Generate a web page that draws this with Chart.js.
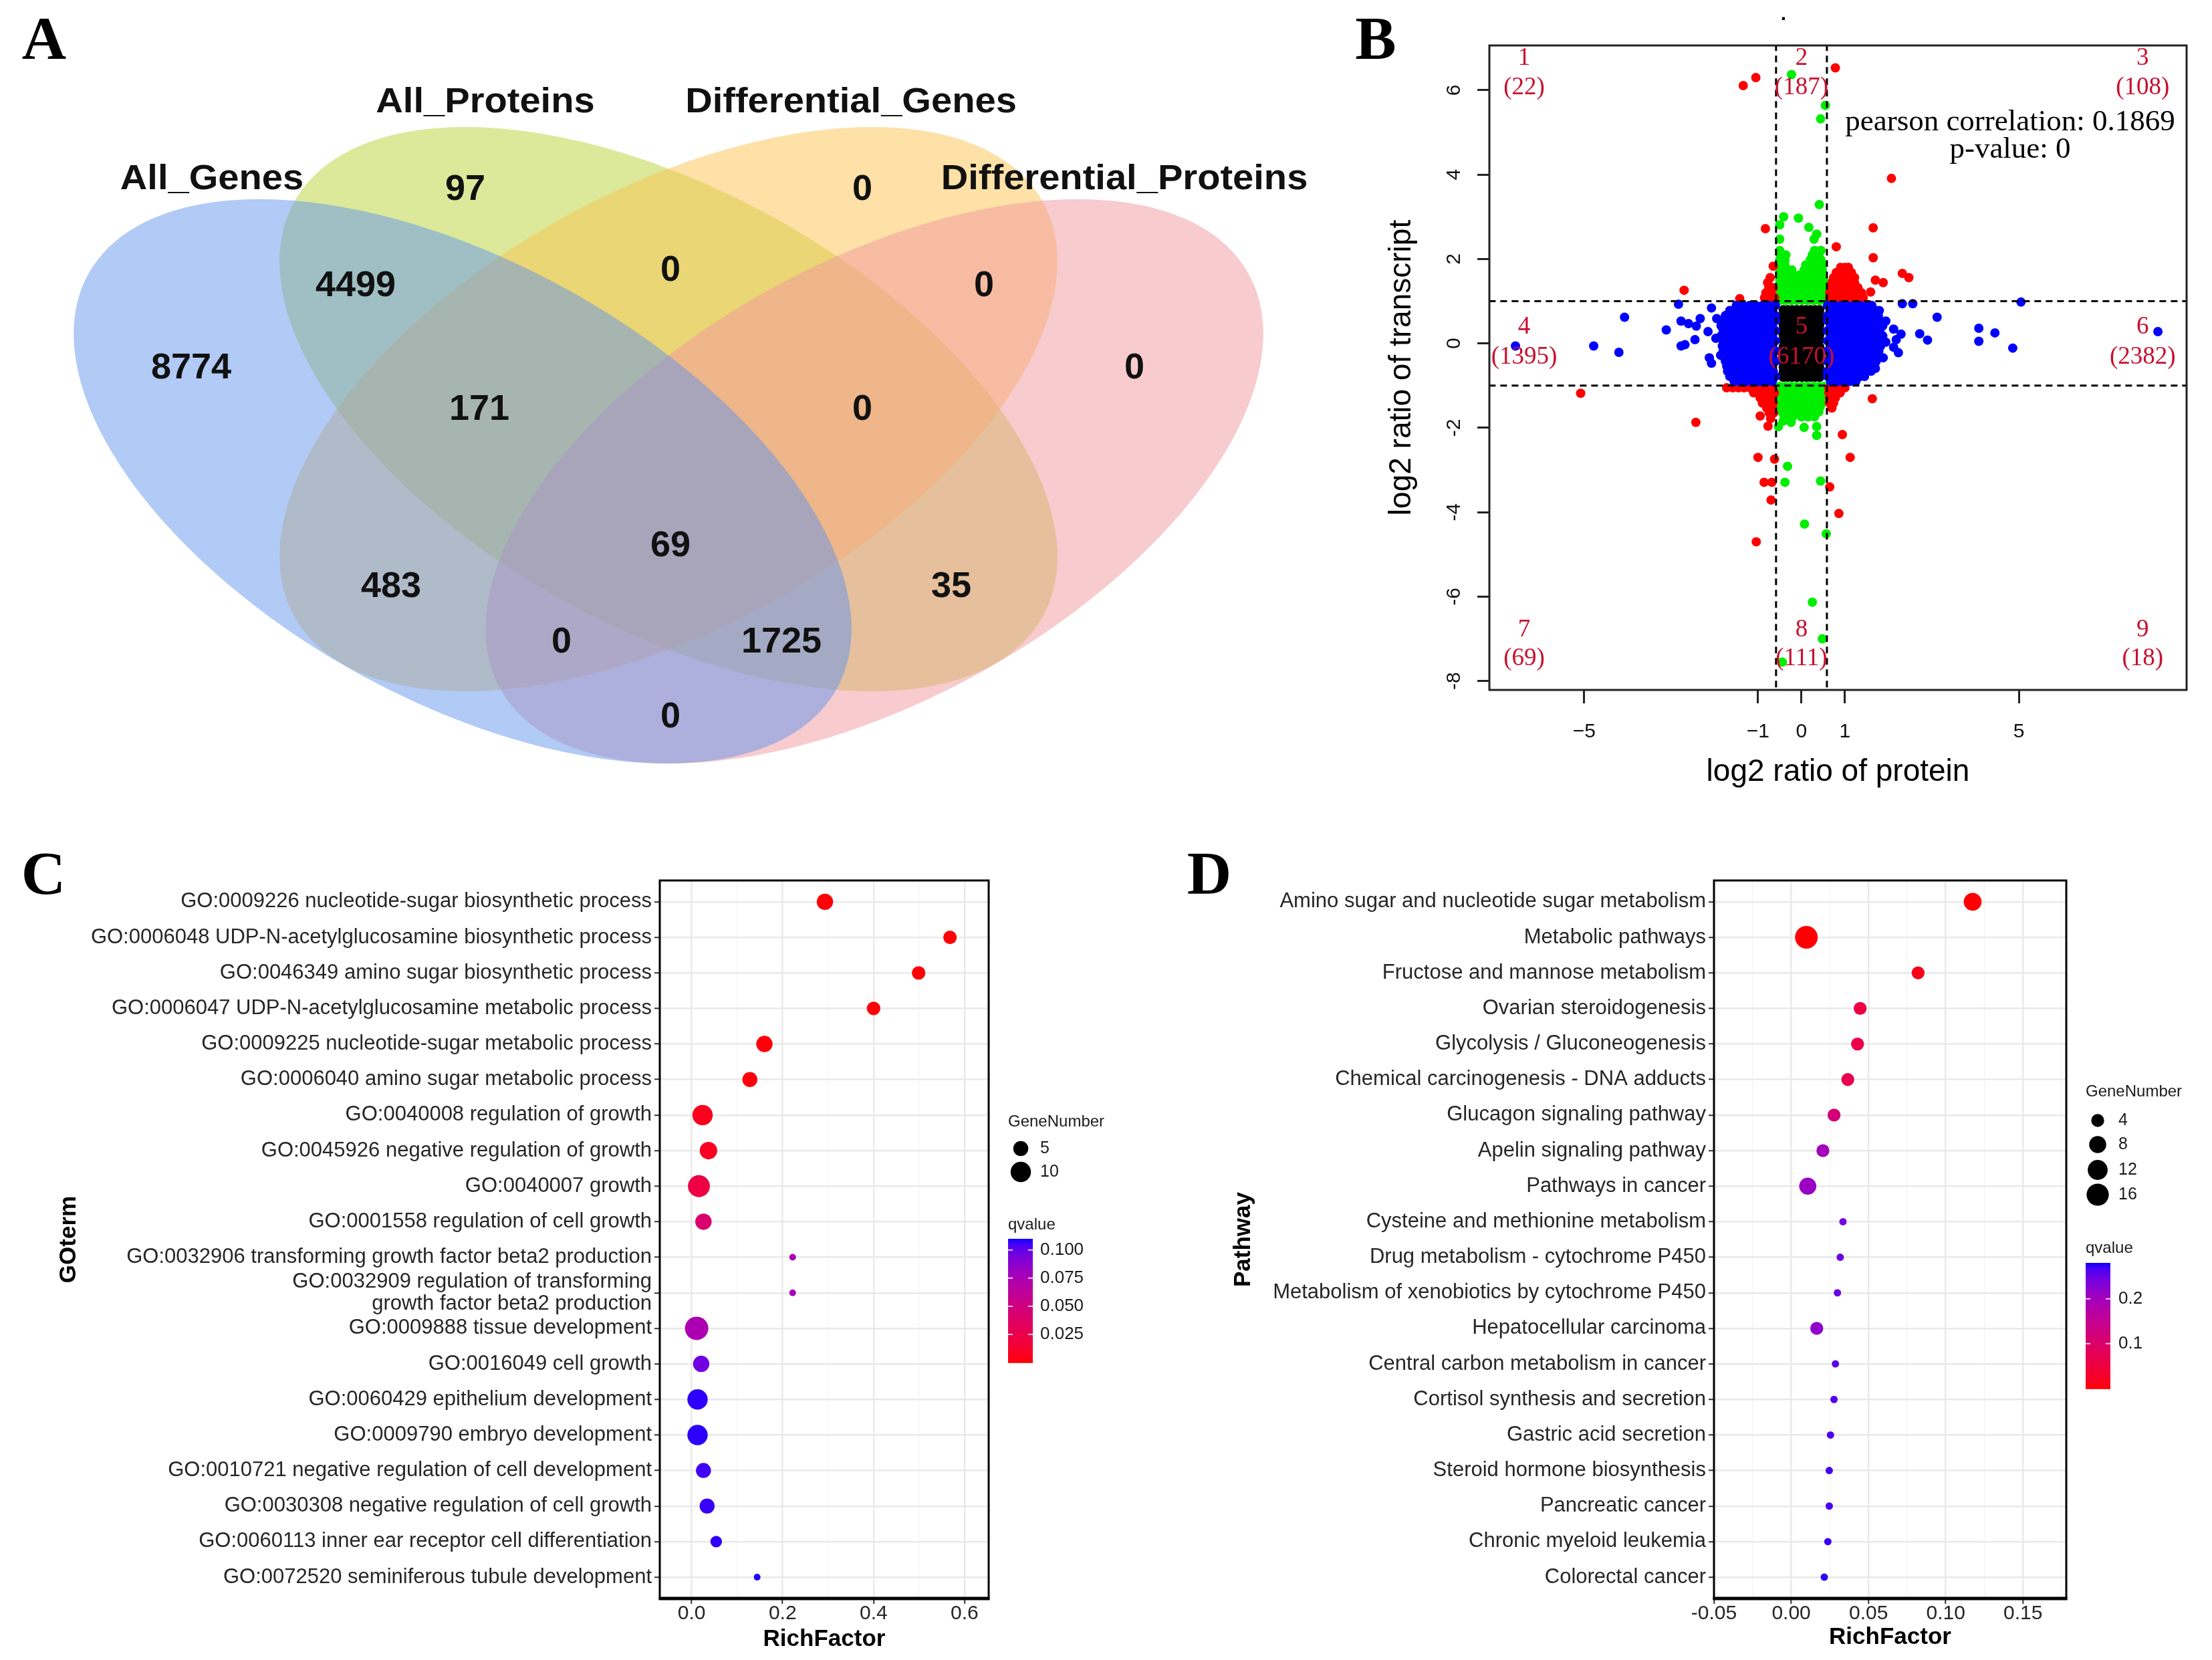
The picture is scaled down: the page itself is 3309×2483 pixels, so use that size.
<!DOCTYPE html>
<html>
<head>
<meta charset="utf-8">
<script src="https://cdn.jsdelivr.net/npm/chart.js"></script>
<style>
html, body { margin: 0; padding: 0; background: #fff; }
body { width: 3309px; height: 2483px; position: relative; overflow: hidden; }
canvas { position: absolute; }
</style>
</head>
<body>
<canvas id="vennChart" width="1990" height="1200" style="left:0;top:0"></canvas>
<canvas id="scatterChart" width="1319" height="1200" style="left:1990px;top:0"></canvas>
<canvas id="goChart" width="1700" height="1233" style="left:0;top:1250px"></canvas>
<canvas id="keggChart" width="1609" height="1233" style="left:1700px;top:1250px"></canvas>
<script>
// ---------- Panel A: Venn ----------
const vennSets = ['All_Genes', 'All_Proteins', 'Differential_Genes', 'Differential_Proteins'];
const vennCounts = [97, 0, 4499, 0, 0, 8774, 171, 0, 0, 69, 483, 35, 0, 1725, 0];

// ---------- Panel B: protein vs transcript ----------
const protCut = 0.585;
const transCut = 1;
const quadNames = ['1', '2', '3', '4', '5', '6', '7', '8', '9'];
const quadCounts = [22, 187, 108, 1395, 6170, 2382, 69, 111, 18];
const pearsonR = '0.1869';
const pearsonP = '0';
const xTicksB = [-5, -1, 0, 1, 5];
const xTickLabelsB = ['\u22125', '\u22121', '0', '1', '5'];
const yTicksB = [-8, -6, -4, -2, 0, 2, 4, 6];

const blueOutliers = [
  [-6.58, -0.06], [-4.78, -0.06], [-4.20, -0.21], [-4.07, 0.62], [-3.11, 0.32], [-2.83, 0.93],
  [-2.77, 0.53], [-2.60, 0.47], [-2.42, 0.41], [-2.33, 0.59], [-2.15, 0.28], [-2.45, 0.09],
  [-2.77, -0.06], [-2.68, -0.03], [-2.07, 0.84], [-1.95, 0.59], [-2.12, -0.34], [-2.07, -0.47],
  [-1.86, -0.28], [-1.97, 0.12],
  [1.79, 0.78], [1.94, 0.53], [2.12, 0.34], [2.29, 0.22], [2.18, 0.09], [1.94, 0.03],
  [2.12, -0.09], [2.23, -0.22], [1.88, -0.34], [1.70, -0.59], [1.29, -0.81], [2.32, 0.94],
  [2.56, 0.94], [3.12, 0.62], [2.72, 0.23], [2.90, 0.08], [4.08, 0.36], [4.08, 0.05],
  [4.45, 0.25], [4.86, -0.11], [5.05, 0.98], [8.20, 0.28]
];
const blueCoreRows = [
  [0.9, [-1.5, -1.35, -1.2, -1.05, -0.9, -0.75, -0.6, 0.6, 0.75, 0.9, 1.05, 1.2, 1.35, 1.5, 1.62]],
  [0.78, [-1.65, -1.57, -1.42, -1.27, -1.12, -0.97, -0.82, -0.67, 0.67, 0.82, 0.97, 1.12, 1.27, 1.42, 1.57, 1.72]],
  [0.66, [-1.75, -1.6, -1.45, -1.3, -1.15, -1.0, -0.85, -0.7, -0.6, 0.6, 0.72, 0.87, 1.02, 1.17, 1.32, 1.47, 1.62, 1.77]],
  [0.54, [-1.8, -1.65, -1.5, -1.35, -1.2, -1.05, -0.9, -0.75, -0.6, 0.6, 0.75, 0.9, 1.05, 1.2, 1.35, 1.5, 1.65, 1.8]],
  [0.42, [-1.85, -1.72, -1.57, -1.42, -1.27, -1.12, -0.97, -0.82, -0.67, 0.67, 0.82, 0.97, 1.12, 1.27, 1.42, 1.57, 1.72, 1.87]],
  [0.3, [-1.8, -1.65, -1.5, -1.35, -1.2, -1.05, -0.9, -0.75, -0.6, 0.6, 0.75, 0.9, 1.05, 1.2, 1.35, 1.5, 1.65, 1.8]],
  [0.18, [-1.85, -1.72, -1.57, -1.42, -1.27, -1.12, -0.97, -0.82, -0.67, 0.67, 0.82, 0.97, 1.12, 1.27, 1.42, 1.57, 1.72, 1.87]],
  [0.06, [-1.8, -1.65, -1.5, -1.35, -1.2, -1.05, -0.9, -0.75, -0.6, 0.6, 0.75, 0.9, 1.05, 1.2, 1.35, 1.5, 1.65, 1.8]],
  [-0.06, [-1.82, -1.72, -1.57, -1.42, -1.27, -1.12, -0.97, -0.82, -0.67, 0.67, 0.82, 0.97, 1.12, 1.27, 1.42, 1.57, 1.72, 1.82]],
  [-0.18, [-1.8, -1.65, -1.5, -1.35, -1.2, -1.05, -0.9, -0.75, -0.6, 0.6, 0.75, 0.9, 1.05, 1.2, 1.35, 1.5, 1.65, 1.78]],
  [-0.3, [-1.78, -1.65, -1.57, -1.42, -1.27, -1.12, -0.97, -0.82, -0.67, 0.67, 0.82, 0.97, 1.12, 1.27, 1.42, 1.57, 1.72]],
  [-0.42, [-1.75, -1.65, -1.5, -1.35, -1.2, -1.05, -0.9, -0.75, -0.6, 0.6, 0.75, 0.9, 1.05, 1.2, 1.35, 1.5, 1.65, 1.72]],
  [-0.54, [-1.72, -1.57, -1.42, -1.27, -1.12, -0.97, -0.82, -0.67, 0.67, 0.82, 0.97, 1.12, 1.27, 1.42, 1.57, 1.68]],
  [-0.66, [-1.7, -1.55, -1.4, -1.25, -1.1, -0.95, -0.8, -0.65, 0.6, 0.75, 0.9, 1.05, 1.2, 1.35, 1.5, 1.6]],
  [-0.78, [-1.65, -1.5, -1.35, -1.2, -1.05, -0.9, -0.75, -0.6, 0.6, 0.75, 0.9, 1.05, 1.2, 1.35, 1.45]],
  [-0.9, [-1.55, -1.42, -1.27, -1.12, -0.97, -0.82, -0.67, 0.67, 0.82, 0.97, 1.12, 1.25]]
];
const blackCoreRows = [
  [0.8, [-0.42, -0.315, -0.21, -0.105, 0, 0.105, 0.21, 0.315, 0.42]],
  [0.68, [-0.42, -0.315, -0.21, -0.105, 0, 0.105, 0.21, 0.315, 0.42]],
  [0.56, [-0.42, -0.315, -0.21, -0.105, 0, 0.105, 0.21, 0.315, 0.42]],
  [0.44, [-0.42, -0.315, -0.21, -0.105, 0, 0.105, 0.21, 0.315, 0.42]],
  [0.32, [-0.42, -0.315, -0.21, -0.105, 0, 0.105, 0.21, 0.315, 0.42]],
  [0.2, [-0.42, -0.315, -0.21, -0.105, 0, 0.105, 0.21, 0.315, 0.42]],
  [0.08, [-0.42, -0.315, -0.21, -0.105, 0, 0.105, 0.21, 0.315, 0.42]],
  [-0.08, [-0.42, -0.315, -0.21, -0.105, 0, 0.105, 0.21, 0.315, 0.42]],
  [-0.2, [-0.42, -0.315, -0.21, -0.105, 0, 0.105, 0.21, 0.315, 0.42]],
  [-0.32, [-0.42, -0.315, -0.21, -0.105, 0, 0.105, 0.21, 0.315, 0.42]],
  [-0.44, [-0.42, -0.315, -0.21, -0.105, 0, 0.105, 0.21, 0.315, 0.42]],
  [-0.56, [-0.42, -0.315, -0.21, -0.105, 0, 0.105, 0.21, 0.315, 0.42]],
  [-0.68, [-0.42, -0.315, -0.21, -0.105, 0, 0.105, 0.21, 0.315, 0.42]],
  [-0.8, [-0.42, -0.315, -0.21, -0.105, 0, 0.105, 0.21, 0.315, 0.42]]
];
const greenPoints = [
  [-0.23, 6.37], [0.55, 5.64], [0.44, 5.32], [0.41, 3.29], [-0.41, 3.0], [-0.07, 2.97],
  [-0.50, 2.81], [0.17, 2.75], [0.35, 2.59], [0.29, 2.47], [-0.50, 2.47], [0.35, 2.19], [-0.47, 2.03],
  [-0.42, -1.84], [-0.24, -1.87], [-0.53, -1.97], [0.06, -1.99], [0.35, -1.97], [0.35, -2.18],
  [-0.32, -2.91], [-0.38, -3.29], [0.44, -3.26], [0.07, -4.28], [0.57, -4.51], [0.25, -6.13],
  [0.48, -7.0], [-0.44, -7.55]
];
const greenCoreRows = [
  [1.02, [-0.5, -0.37, -0.24, -0.11, 0.02, 0.15, 0.28, 0.41, 0.52]],
  [1.14, [-0.5, -0.37, -0.24, -0.11, 0.02, 0.15, 0.28, 0.41, 0.52]],
  [1.26, [-0.5, -0.37, -0.24, -0.11, 0.02, 0.15, 0.28, 0.41, 0.52]],
  [1.38, [-0.5, -0.37, -0.24, -0.11, 0.02, 0.15, 0.28, 0.41, 0.52]],
  [1.5, [-0.5, -0.37, -0.24, -0.11, 0.02, 0.15, 0.28, 0.41, 0.52]],
  [1.62, [-0.5, -0.37, -0.24, -0.05, 0.08, 0.2, 0.32, 0.45]],
  [1.74, [-0.5, -0.38, -0.22, 0.06, 0.2, 0.34, 0.48]],
  [1.86, [-0.5, -0.38, 0.1, 0.22, 0.35, 0.48]],
  [1.98, [-0.5, -0.38, 0.2, 0.32, 0.45]],
  [2.1, [-0.48, -0.36, 0.25, 0.4]],
  [2.2, [-0.5, 0.3, 0.45]],
  [-1.02, [-0.5, -0.37, -0.24, -0.11, 0.02, 0.15, 0.28, 0.41, 0.52]],
  [-1.14, [-0.5, -0.37, -0.24, -0.11, 0.02, 0.15, 0.28, 0.41, 0.52]],
  [-1.26, [-0.5, -0.37, -0.24, -0.11, 0.02, 0.15, 0.28, 0.41, 0.52]],
  [-1.38, [-0.5, -0.37, -0.24, -0.11, 0.02, 0.15, 0.28, 0.41, 0.52]],
  [-1.5, [-0.48, -0.35, -0.22, -0.09, 0.04, 0.17, 0.3, 0.43]],
  [-1.62, [-0.45, -0.32, -0.18, -0.05, 0.1, 0.25, 0.4]],
  [-1.74, [-0.4, -0.2, 0.0, 0.15, 0.3]]
];
const redPoints = [
  [-1.34, 6.11], [-1.05, 6.30], [0.78, 6.53], [2.07, 3.91],
  [-0.83, 2.72], [1.65, 2.74], [0.80, 2.29], [1.65, 2.03], [-0.65, 1.83],
  [2.32, 1.66], [2.47, 1.56], [1.70, 1.50], [1.88, 1.44], [1.59, 1.22],
  [-2.70, 1.26], [-1.42, 1.06],
  [-5.08, -1.18], [-2.43, -1.87], [1.63, -1.31], [0.94, -2.16], [1.12, -2.70],
  [-1.0, -2.70], [-0.62, -2.74], [-0.86, -3.29], [-0.68, -3.29], [0.65, -3.40],
  [-0.70, -3.71], [0.86, -4.03], [-1.04, -4.70],
  [-0.95, -1.72], [-0.71, -1.78], [-0.77, -1.96]
];
const redCoreRows = [
  [1.08, [-0.85, -0.72, -0.62, 0.65, 0.78, 0.91, 1.04, 1.17, 1.3, 1.42]],
  [1.2, [-0.82, -0.7, 0.65, 0.78, 0.91, 1.04, 1.17, 1.3, 1.38]],
  [1.32, [-0.75, -0.65, 0.68, 0.8, 0.93, 1.06, 1.19, 1.3]],
  [1.44, [-0.78, 0.7, 0.83, 0.96, 1.09, 1.22]],
  [1.56, [-0.72, 0.74, 0.87, 1.0, 1.13, 1.22]],
  [1.68, [0.8, 0.93, 1.06, 1.15]],
  [1.8, [0.9, 1.0, 1.08]],
  [-1.05, [-1.72, -1.58, -1.45, -1.32, -1.19, -1.06, -0.93, -0.8, -0.67, 0.63, 0.76, 0.89, 1.0]],
  [-1.17, [-1.1, -0.97, -0.84, -0.71, -0.62, 0.63, 0.76, 0.89]],
  [-1.29, [-0.95, -0.82, -0.69, 0.65, 0.78]],
  [-1.41, [-0.9, -0.77, -0.65, 0.64, 0.74]],
  [-1.53, [-0.8, -0.67, 0.7]],
  [-1.65, [-0.74, -0.64]]
];

// ---------- Panel C: GO enrichment ----------
const goTerms = [
  'GO:0009226 nucleotide-sugar biosynthetic process',
  'GO:0006048 UDP-N-acetylglucosamine biosynthetic process',
  'GO:0046349 amino sugar biosynthetic process',
  'GO:0006047 UDP-N-acetylglucosamine metabolic process',
  'GO:0009225 nucleotide-sugar metabolic process',
  'GO:0006040 amino sugar metabolic process',
  'GO:0040008 regulation of growth',
  'GO:0045926 negative regulation of growth',
  'GO:0040007 growth',
  'GO:0001558 regulation of cell growth',
  'GO:0032906 transforming growth factor beta2 production',
  ['GO:0032909 regulation of transforming', 'growth factor beta2 production'],
  'GO:0009888 tissue development',
  'GO:0016049 cell growth',
  'GO:0060429 epithelium development',
  'GO:0009790 embryo development',
  'GO:0010721 negative regulation of cell development',
  'GO:0030308 negative regulation of cell growth',
  'GO:0060113 inner ear receptor cell differentiation',
  'GO:0072520 seminiferous tubule development'
];
const goRich = [0.293, 0.568, 0.499, 0.400, 0.160, 0.128, 0.024, 0.037, 0.016, 0.026,
  0.222, 0.222, 0.011, 0.021, 0.013, 0.013, 0.026, 0.034, 0.054, 0.144];
const goGenes = [6, 4, 4, 4, 6, 5, 10, 7, 12, 6, 2, 2, 14, 6, 10, 10, 5, 5, 3, 2];
const goQ = [0.001, 0.001, 0.001, 0.001, 0.002, 0.002, 0.006, 0.008, 0.022, 0.042,
  0.076, 0.076, 0.074, 0.097, 0.108, 0.108, 0.106, 0.107, 0.108, 0.109];
const goSizeBreaks = [5, 10];
const goQBreaks = [0.1, 0.075, 0.05, 0.025];
const goQLabels = ['0.100', '0.075', '0.050', '0.025'];
const goXMajor = [0, 0.2, 0.4, 0.6];
const goXMinor = [0.1, 0.3, 0.5];
const goXLabels = ['0.0', '0.2', '0.4', '0.6'];

// ---------- Panel D: KEGG enrichment ----------
const keggTerms = [
  'Amino sugar and nucleotide sugar metabolism',
  'Metabolic pathways',
  'Fructose and mannose metabolism',
  'Ovarian steroidogenesis',
  'Glycolysis / Gluconeogenesis',
  'Chemical carcinogenesis - DNA adducts',
  'Glucagon signaling pathway',
  'Apelin signaling pathway',
  'Pathways in cancer',
  'Cysteine and methionine metabolism',
  'Drug metabolism - cytochrome P450',
  'Metabolism of xenobiotics by cytochrome P450',
  'Hepatocellular carcinoma',
  'Central carbon metabolism in cancer',
  'Cortisol synthesis and secretion',
  'Gastric acid secretion',
  'Steroid hormone biosynthesis',
  'Pancreatic cancer',
  'Chronic myeloid leukemia',
  'Colorectal cancer'
];
const keggRich = [0.1174, 0.0098, 0.0821, 0.0446, 0.0429, 0.0366, 0.0277, 0.0205, 0.0107, 0.0335,
  0.0317, 0.0299, 0.0165, 0.0286, 0.0277, 0.0254, 0.0246, 0.0246, 0.0237, 0.0214];
const keggGenes = [9, 17, 4, 4, 4, 4, 4, 4, 8, 2, 2, 2, 4, 2, 2, 2, 2, 2, 2, 2];
const keggQ = [0.002, 0.002, 0.015, 0.055, 0.06, 0.07, 0.12, 0.2, 0.21, 0.245,
  0.25, 0.25, 0.22, 0.26, 0.262, 0.265, 0.268, 0.268, 0.272, 0.275];
const keggSizeBreaks = [4, 8, 12, 16];
const keggQBreaks = [0.2, 0.1];
const keggQLabels = ['0.2', '0.1'];
const keggXMajor = [-0.05, 0, 0.05, 0.1, 0.15];
const keggXMinor = [-0.025, 0.025, 0.075, 0.125, 0.175];
const keggXLabels = ['-0.05', '0.00', '0.05', '0.10', '0.15'];

// ---------- helpers ----------
const SANS = '"Liberation Sans", Arial, sans-serif';
const SERIF = '"Liberation Serif", "Times New Roman", serif';
Chart.defaults.font.family = SANS;

function drawText(ctx, text, x, y, font, o) {
  o = o || {};
  ctx.save();
  ctx.font = font;
  ctx.fillStyle = o.color || '#000';
  ctx.textAlign = o.align || 'center';
  ctx.textBaseline = o.baseline || 'middle';
  ctx.translate(x, y);
  if (o.rotate) ctx.rotate(o.rotate);
  if (o.sx) ctx.scale(o.sx, 1);
  ctx.fillText(text, 0, 0);
  ctx.restore();
}

function rowsToPoints(rows) {
  return rows.flatMap(([y, xs]) => xs.map(x => ({ x: x, y: y })));
}
function pairsToPoints(pairs) {
  return pairs.map(([x, y]) => ({ x: x, y: y }));
}

// ggplot-like red -> blue gradient in Lab space
function toLab(rgb) {
  const lin = rgb.map(c => { c /= 255; return c <= 0.04045 ? c / 12.92 : Math.pow((c + 0.055) / 1.055, 2.4); });
  const X = (0.4124 * lin[0] + 0.3576 * lin[1] + 0.1805 * lin[2]) / 0.95047;
  const Y = 0.2126 * lin[0] + 0.7152 * lin[1] + 0.0722 * lin[2];
  const Z = (0.0193 * lin[0] + 0.1192 * lin[1] + 0.9505 * lin[2]) / 1.08883;
  const f = t => t > 0.008856 ? Math.cbrt(t) : 7.787 * t + 16 / 116;
  return [116 * f(Y) - 16, 500 * (f(X) - f(Y)), 200 * (f(Y) - f(Z))];
}
function fromLab(lab) {
  const fy = (lab[0] + 16) / 116, fx = lab[1] / 500 + fy, fz = fy - lab[2] / 200;
  const inv = t => t * t * t > 0.008856 ? t * t * t : (t - 16 / 116) / 7.787;
  const X = 0.95047 * inv(fx), Y = inv(fy), Z = 1.08883 * inv(fz);
  const lin = [3.2406 * X - 1.5372 * Y - 0.4986 * Z, -0.9689 * X + 1.8758 * Y + 0.0415 * Z, 0.0557 * X - 0.2040 * Y + 1.0570 * Z];
  return lin.map(c => {
    c = Math.max(0, c);
    c = c <= 0.0031308 ? 12.92 * c : 1.055 * Math.pow(c, 1 / 2.4) - 0.055;
    return Math.round(Math.min(1, Math.max(0, c)) * 255);
  });
}
const LAB_LOW = toLab([255, 0, 0]);
const LAB_HIGH = toLab([0, 0, 255]);
function qColor(q, lim) {
  const t = Math.min(1, Math.max(0, (q - lim[0]) / (lim[1] - lim[0])));
  const c = fromLab(LAB_LOW.map((v, i) => v + (LAB_HIGH[i] - v) * t));
  return 'rgb(' + c[0] + ',' + c[1] + ',' + c[2] + ')';
}

const baseOptions = {
  responsive: false,
  animation: false,
  devicePixelRatio: 1,
  events: [],
  plugins: { legend: { display: false }, tooltip: { enabled: false } }
};

// ---------- A: Venn ----------
window.initVenn = function () {
  const canvas = document.getElementById('vennChart');
  if (!canvas) return;
  const shapes = [
    { cx: 692, cy: 720, a: 640, b: 327, rot: 29, fill: 'rgba(100,149,237,0.5)' },
    { cx: 1000, cy: 612, a: 640, b: 327, rot: 29, fill: 'rgba(185,211,55,0.5)' },
    { cx: 1000, cy: 612, a: 640, b: 327, rot: -29, fill: 'rgba(251,195,80,0.5)' },
    { cx: 1308, cy: 720, a: 640, b: 327, rot: -29, fill: 'rgba(241,151,157,0.5)' }
  ];
  const drawOrder = [1, 2, 3, 0];
  const countPos = [[696, 284], [1290, 284], [532, 428], [1003, 405], [1472, 428], [286, 551],
    [717, 613], [1290, 613], [1697, 551], [1003, 817], [585, 878], [1423, 878], [840, 961],
    [1169, 961], [1003, 1073]];
  const setLabelPos = [[317, 283], [726, 168], [1273, 168], [1682, 283]];
  const vennDecor = {
    id: 'vennDecor',
    afterDraw(chart) {
      const { ctx, scales: { x, y } } = chart;
      drawOrder.forEach(idx => {
        const e = shapes[idx];
        const r = e.rot * Math.PI / 180;
        ctx.save();
        ctx.beginPath();
        for (let k = 0; k <= 240; k++) {
          const t = k / 240 * Math.PI * 2;
          const ux = e.a * Math.cos(t), uy = e.b * Math.sin(t);
          const px = x.getPixelForValue(e.cx + ux * Math.cos(r) - uy * Math.sin(r));
          const py = y.getPixelForValue(e.cy + ux * Math.sin(r) + uy * Math.cos(r));
          if (k === 0) ctx.moveTo(px, py); else ctx.lineTo(px, py);
        }
        ctx.closePath();
        ctx.fillStyle = e.fill;
        ctx.fill();
        ctx.restore();
      });
      vennCounts.forEach((v, i) => {
        drawText(ctx, String(v), x.getPixelForValue(countPos[i][0]), y.getPixelForValue(countPos[i][1]),
          'bold 54px ' + SANS, { color: '#111' });
      });
      vennSets.forEach((s, i) => {
        drawText(ctx, s, x.getPixelForValue(setLabelPos[i][0]), y.getPixelForValue(setLabelPos[i][1]),
          'bold 51px ' + SANS, { baseline: 'alphabetic', sx: 1.1, color: '#111' });
      });
      drawText(ctx, 'A', 66, 64, 'bold 92px ' + SERIF);
    }
  };
  new Chart(canvas.getContext('2d'), {
    type: 'scatter',
    data: { datasets: [] },
    options: Object.assign({}, baseOptions, {
      layout: { padding: 0 },
      scales: {
        x: { type: 'linear', display: false, min: 0, max: 1990 },
        y: { type: 'linear', display: false, min: 0, max: 1200, reverse: true }
      }
    }),
    plugins: [vennDecor]
  });
};

// ---------- B: scatter ----------
window.initScatter = function () {
  const canvas = document.getElementById('scatterChart');
  if (!canvas) return;
  const quadCols = [-6.38, 0, 7.85];
  const quadRows = [[6.75, 6.05], [0.38, -0.32], [-6.79, -7.47]];
  const dashed = (pts) => ({
    data: pts, showLine: true, borderColor: '#000', borderWidth: 3, borderDash: [10, 7],
    pointRadius: 0, fill: false
  });
  const dots = (pts, color) => ({
    data: pts, backgroundColor: color, pointBackgroundColor: color, pointBorderWidth: 0,
    pointRadius: 7, showLine: false
  });
  const scatterDecor = {
    id: 'scatterDecor',
    afterDatasetsDraw(chart) {
      const { ctx, scales: { x, y } } = chart;
      quadNames.forEach((n, i) => {
        const cx = x.getPixelForValue(quadCols[i % 3]);
        const row = quadRows[Math.floor(i / 3)];
        drawText(ctx, n, cx, y.getPixelForValue(row[0]), '37px ' + SERIF, { color: '#c8102e' });
        drawText(ctx, '(' + quadCounts[i] + ')', cx, y.getPixelForValue(row[1]), '37px ' + SERIF, { color: '#c8102e' });
      });
      drawText(ctx, 'pearson correlation: ' + pearsonR, x.getPixelForValue(4.8), y.getPixelForValue(5.24), '45px ' + SERIF);
      drawText(ctx, 'p-value: ' + pearsonP, x.getPixelForValue(4.8), y.getPixelForValue(4.58), '45px ' + SERIF);
    },
    afterDraw(chart) {
      const { ctx, chartArea: a, scales: { y } } = chart;
      ctx.save();
      ctx.strokeStyle = '#222';
      ctx.lineWidth = 3;
      ctx.strokeRect(a.left, a.top, a.right - a.left, a.bottom - a.top);
      ctx.restore();
      yTicksB.forEach(v => {
        drawText(ctx, String(v), 186, y.getPixelForValue(v), '30px ' + SANS, { rotate: -Math.PI / 2, color: '#111' });
      });
      drawText(ctx, 'log2 ratio of transcript', 107, (a.top + a.bottom) / 2, '46px ' + SANS, { rotate: -Math.PI / 2 });
      drawText(ctx, 'log2 ratio of protein', (a.left + a.right) / 2, 1155, '46px ' + SANS);
      drawText(ctx, 'B', 68, 64, 'bold 92px ' + SERIF);
      drawText(ctx, '.', 678, 22, 'bold 30px ' + SANS);
    }
  };
  new Chart(canvas.getContext('2d'), {
    type: 'scatter',
    data: {
      datasets: [
        dashed([{ x: -protCut, y: -20 }, { x: -protCut, y: 20 }]),
        dashed([{ x: protCut, y: -20 }, { x: protCut, y: 20 }]),
        dashed([{ x: -20, y: transCut }, { x: 20, y: transCut }]),
        dashed([{ x: -20, y: -transCut }, { x: 20, y: -transCut }]),
        dots(pairsToPoints(blueOutliers).concat(rowsToPoints(blueCoreRows)), '#0000ff'),
        dots(pairsToPoints(redPoints).concat(rowsToPoints(redCoreRows)), '#ff0000'),
        dots(pairsToPoints(greenPoints).concat(rowsToPoints(greenCoreRows)), '#00ee00'),
        dots(rowsToPoints(blackCoreRows), '#000000')
      ]
    },
    options: Object.assign({}, baseOptions, {
      layout: { padding: { left: 0, top: 68, right: 38, bottom: 0 } },
      scales: {
        x: {
          type: 'linear', min: -7.18, max: 8.86,
          afterBuildTicks: s => { s.ticks = xTicksB.map(v => ({ value: v })); },
          afterFit: s => { s.height = 168; },
          ticks: {
            autoSkip: false, maxRotation: 0, padding: 28, color: '#111',
            font: { size: 30, lineHeight: 1 },
            callback: v => xTickLabelsB[xTicksB.indexOf(v)]
          },
          grid: { drawOnChartArea: false, drawTicks: true, tickLength: 20, tickWidth: 3, tickColor: '#222', color: '#222' },
          border: { display: false }
        },
        y: {
          type: 'linear', min: -8.21, max: 7.06,
          afterBuildTicks: s => { s.ticks = yTicksB.map(v => ({ value: v })); },
          afterFit: s => { s.width = 238; },
          ticks: { display: false },
          grid: { drawOnChartArea: false, drawTicks: true, tickLength: 18, tickWidth: 3, tickColor: '#222', color: '#222' },
          border: { display: false }
        }
      }
    }),
    plugins: [scatterDecor]
  });
};

// ---------- C / D: enrichment bubble plots ----------
function makeEnrichment(id, p) {
  const canvas = document.getElementById(id);
  if (!canvas) return;
  const isMajor = v => p.xMajor.some(m => Math.abs(m - v) < 1e-9);
  const xTicks = p.xMajor.concat(p.xMinor).sort((a, b) => a - b);
  const decor = {
    id: 'enrichDecor',
    afterDraw(chart) {
      const { ctx, chartArea: a } = chart;
      ctx.save();
      ctx.strokeStyle = '#000';
      ctx.lineWidth = 3;
      ctx.strokeRect(a.left, a.top, a.right - a.left, a.bottom - a.top);
      ctx.lineWidth = 5;
      ctx.beginPath();
      ctx.moveTo(a.left - 1.5, a.bottom);
      ctx.lineTo(a.right + 1.5, a.bottom);
      ctx.stroke();
      ctx.restore();

      drawText(ctx, 'RichFactor', (a.left + a.right) / 2, p.xTitleY, 'bold 35px ' + SANS);
      drawText(ctx, p.yTitle, p.yTitleX, (a.top + a.bottom) / 2, 'bold 35px ' + SANS, { rotate: -Math.PI / 2 });
      drawText(ctx, p.letter, p.letterPos[0], p.letterPos[1], 'bold 92px ' + SERIF);

      const L = p.legend;
      drawText(ctx, 'GeneNumber', L.x, L.titleY, '24px ' + SANS, { align: 'left', color: '#1a1a1a' });
      p.sizeBreaks.forEach((n, i) => {
        ctx.save();
        ctx.beginPath();
        ctx.arc(L.dotX, L.dotY[i], p.radius(n), 0, Math.PI * 2);
        ctx.fillStyle = '#000';
        ctx.fill();
        ctx.restore();
        drawText(ctx, String(n), L.labelX, L.dotY[i], '25px ' + SANS, { align: 'left', color: '#1a1a1a' });
      });
      drawText(ctx, 'qvalue', L.x, L.qTitleY, '24px ' + SANS, { align: 'left', color: '#1a1a1a' });
      const steps = 160;
      for (let k = 0; k < steps; k++) {
        const qv = p.qLim[0] + (p.qLim[1] - p.qLim[0]) * (k + 0.5) / steps;
        ctx.fillStyle = qColor(qv, p.qLim);
        ctx.fillRect(L.x, L.barY + L.barH - (k + 1) * L.barH / steps, L.barW, L.barH / steps + 0.8);
      }
      p.qBreaks.forEach((v, i) => {
        const yy = L.barY + L.barH - (v - p.qLim[0]) / (p.qLim[1] - p.qLim[0]) * L.barH;
        ctx.save();
        ctx.strokeStyle = 'rgba(255,255,255,0.8)';
        ctx.lineWidth = 2;
        ctx.beginPath();
        ctx.moveTo(L.x, yy); ctx.lineTo(L.x + 7, yy);
        ctx.moveTo(L.x + L.barW - 7, yy); ctx.lineTo(L.x + L.barW, yy);
        ctx.stroke();
        ctx.restore();
        drawText(ctx, p.qLabels[i], L.labelX, yy, '26px ' + SANS, { align: 'left', color: '#1a1a1a' });
      });
    }
  };
  new Chart(canvas.getContext('2d'), {
    type: 'scatter',
    data: {
      datasets: [{
        data: p.rich.map((x, i) => ({ x: x, y: i + 1 })),
        pointRadius: c => p.radius(p.genes[c.dataIndex]),
        pointBackgroundColor: c => qColor(p.q[c.dataIndex], p.qLim),
        pointBorderWidth: 0
      }]
    },
    options: Object.assign({}, baseOptions, {
      layout: { padding: { left: 0, top: p.area.top, right: p.area.right, bottom: 0 } },
      scales: {
        x: {
          type: 'linear', min: p.xMin, max: p.xMax,
          afterBuildTicks: s => { s.ticks = xTicks.map(v => ({ value: v })); },
          afterFit: s => { s.height = p.area.bottomSpace; },
          ticks: {
            autoSkip: false, maxRotation: 0, padding: 0, color: '#262626',
            font: { size: 30, lineHeight: 1 },
            callback: v => {
              const i = p.xMajor.findIndex(m => Math.abs(m - v) < 1e-9);
              return i >= 0 ? p.xLabels[i] : '';
            }
          },
          grid: {
            color: c => (c.tick && !isMajor(c.tick.value)) ? '#f3f3f3' : '#e9e9e9',
            lineWidth: c => (c.tick && !isMajor(c.tick.value)) ? 1.3 : 2.5,
            tickColor: c => (c.tick && !isMajor(c.tick.value)) ? 'rgba(0,0,0,0)' : '#333',
            tickLength: 8, tickWidth: 2
          },
          border: { display: false }
        },
        y: {
          type: 'linear', reverse: true, min: 0.4, max: p.terms.length + 0.6,
          afterBuildTicks: s => { s.ticks = p.terms.map((t, i) => ({ value: i + 1 })); },
          afterFit: s => { s.width = p.area.left; },
          ticks: {
            autoSkip: false, padding: 4, color: '#262626',
            font: { size: 31, lineHeight: 1.05 },
            callback: v => p.terms[v - 1]
          },
          grid: { color: '#e9e9e9', lineWidth: 2.5, tickLength: 8, tickWidth: 2, tickColor: '#333' },
          border: { display: false }
        }
      }
    }),
    plugins: [decor]
  });
}

window.initGoChart = function () {
  const nMin = Math.min(...goGenes), nMax = Math.max(...goGenes);
  makeEnrichment('goChart', {
    terms: goTerms, rich: goRich, genes: goGenes, q: goQ, qLim: [0, 0.11],
    radius: n => 5 + 12.5 * Math.sqrt(Math.max(0, n - nMin) / (nMax - nMin)),
    xMin: -0.07, xMax: 0.653, xMajor: goXMajor, xMinor: goXMinor, xLabels: goXLabels,
    area: { left: 987, top: 67, right: 221, bottomSpace: 92 },
    xTitleY: 1202, yTitle: 'GOterm', yTitleX: 103, letter: 'C', letterPos: [65, 63],
    sizeBreaks: goSizeBreaks, qBreaks: goQBreaks, qLabels: goQLabels,
    legend: { x: 1508, titleY: 428, dotX: 1527, dotY: [468, 503], labelX: 1556,
      qTitleY: 582, barY: 603, barW: 37, barH: 185 }
  });
};

window.initKeggChart = function () {
  const nMin = Math.min(...keggGenes), nMax = Math.max(...keggGenes);
  makeEnrichment('keggChart', {
    terms: keggTerms, rich: keggRich, genes: keggGenes, q: keggQ, qLim: [0, 0.28],
    radius: n => 5.5 + 11.5 * Math.sqrt(Math.max(0, n - nMin) / (nMax - nMin)),
    xMin: -0.05, xMax: 0.178, xMajor: keggXMajor, xMinor: keggXMinor, xLabels: keggXLabels,
    area: { left: 864, top: 67, right: 218, bottomSpace: 92 },
    xTitleY: 1199, yTitle: 'Pathway', yTitleX: 160, letter: 'D', letterPos: [109, 63],
    sizeBreaks: keggSizeBreaks, qBreaks: keggQBreaks, qLabels: keggQLabels,
    legend: { x: 1420, titleY: 383, dotX: 1438, dotY: [426, 462, 500, 537], labelX: 1469,
      qTitleY: 617, barY: 639, barW: 37, barH: 188 }
  });
};

try {
  initVenn();
  initScatter();
  initGoChart();
  initKeggChart();
} catch (e) {
  console.error('Error drawing figure:', e);
}
</script>
</body>
</html>
